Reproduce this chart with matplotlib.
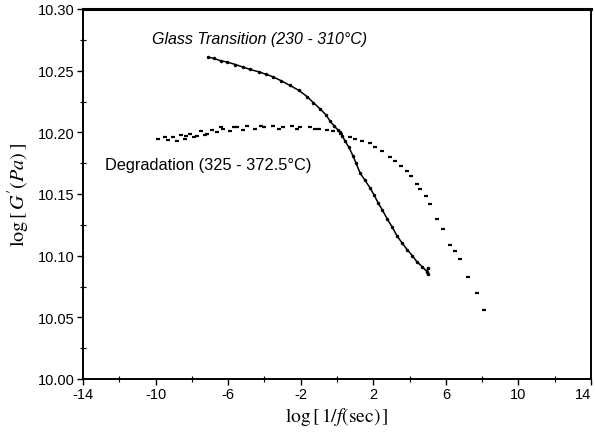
import matplotlib
matplotlib.use("Agg")
import matplotlib.pyplot as plt
from matplotlib.ticker import MultipleLocator, FormatStrFormatter

plt.rcParams['font.family'] = ['Liberation Sans', 'DejaVu Sans']
plt.rcParams['mathtext.fontset'] = 'stix'
plt.rcParams['axes.unicode_minus'] = False

# glass transition master curve (230 - 310 C)
glass_x = [-7.1, -6.8, -6.4, -6.06, -5.6, -5.2, -4.79, -4.3, -3.9, -3.53, -3.1, -2.59,
           -2.1, -1.65, -1.3, -0.93, -0.6, -0.38, -0.15, 0.05, 0.17, 0.3, 0.44, 0.65,
           0.88, 1.05, 1.27, 1.55, 1.82, 2.05, 2.26, 2.5, 2.76, 3.05, 3.31, 3.6, 3.86,
           4.15, 4.41, 4.7, 4.96, 5.0, 5.0]
glass_y = [10.261, 10.260, 10.258, 10.257, 10.255, 10.253, 10.251, 10.249, 10.247, 10.245,
           10.242, 10.238, 10.234, 10.229, 10.224, 10.219, 10.214, 10.209, 10.205, 10.202,
           10.200, 10.197, 10.193, 10.188, 10.181, 10.175, 10.167, 10.161, 10.155, 10.149,
           10.143, 10.137, 10.130, 10.123, 10.116, 10.110, 10.105, 10.100, 10.095, 10.091,
           10.087, 10.090, 10.085]

# degradation master curve (325 - 372.5 C)
degr_x = [-9.87, -9.5, -9.3, -9.04, -8.8, -8.6, -8.4, -8.3, -8.1, -7.9, -7.7, -7.5,
          -7.3, -7.16, -6.9, -6.6, -6.4, -6.28, -5.9, -5.7, -5.5, -5.2, -4.96, -4.5,
          -4.2, -4.0, -3.53, -3.2, -3.0, -2.5, -2.2, -2.04, -1.5, -1.2, -1.0, -0.55,
          -0.2, 0.2, 0.72, 1.0, 1.4, 1.82, 2.1, 2.5, 2.92, 3.2, 3.55, 3.86, 4.1,
          4.4, 4.58, 4.9, 5.13, 5.51, 5.85, 6.23, 6.5, 6.78, 7.22, 7.72, 8.11]
degr_y = [10.195, 10.196, 10.194, 10.196, 10.193, 10.198, 10.195, 10.197, 10.199, 10.196,
          10.197, 10.201, 10.198, 10.199, 10.202, 10.200, 10.204, 10.203, 10.201, 10.204,
          10.204, 10.202, 10.205, 10.203, 10.205, 10.204, 10.205, 10.203, 10.204, 10.205,
          10.203, 10.204, 10.204, 10.203, 10.203, 10.202, 10.201, 10.199, 10.196, 10.195,
          10.193, 10.191, 10.188, 10.185, 10.180, 10.177, 10.173, 10.169, 10.165, 10.158,
          10.154, 10.148, 10.142, 10.130, 10.122, 10.109, 10.104, 10.097, 10.083, 10.070,
          10.056]

x_ticks = [-14, -10, -6, -2, 2, 6, 10, 14]
y_ticks = [10.00, 10.05, 10.10, 10.15, 10.20, 10.25, 10.30]

fig = plt.figure(figsize=(5.95, 4.35), dpi=100)
ax = fig.add_axes([83 / 595, 55 / 435, 508 / 595, 370 / 435])

ax.plot(glass_x, glass_y, color='black', lw=1.1)
ax.plot(glass_x, glass_y, 'k.', ms=3)
ax.plot(degr_x, degr_y, linestyle='none', marker='_', color='black', ms=3.5, mew=1.6)

ax.set_xlim(-14, 14)
ax.set_ylim(10.00, 10.30)
ax.set_xticks(x_ticks)
ax.set_yticks(y_ticks)
ax.yaxis.set_major_formatter(FormatStrFormatter('%.2f'))
ax.xaxis.set_minor_locator(MultipleLocator(2))
ax.yaxis.set_minor_locator(MultipleLocator(0.025))
ax.tick_params(which='major', direction='out', length=4, width=1, labelsize=10.5, pad=2)
ax.tick_params(which='minor', direction='inout', length=4, width=0.8)
ax.get_xticklabels()[-1].set_horizontalalignment('right')
for s in ax.spines.values():
    s.set_linewidth(1.4)
ax.spines['top'].set_linewidth(2.2)

ax.text(-10.2, 10.276, 'Glass Transition (230 - 310°C)', fontsize=11.5, style='italic',
        va='center', ha='left')
ax.text(-12.8, 10.174, 'Degradation (325 - 372.5°C)', fontsize=11.8, va='center', ha='left')

ax.set_xlabel(r"$\mathrm{log\,[\,1/}f\mathrm{(sec)\,]}$", fontsize=14, labelpad=3)
ax.set_ylabel(r"$\mathrm{log\,[\,}G'\mathrm{(}Pa\mathrm{)\,]}$", fontsize=14.5, labelpad=4)

fig.savefig('out.png', dpi=100)
